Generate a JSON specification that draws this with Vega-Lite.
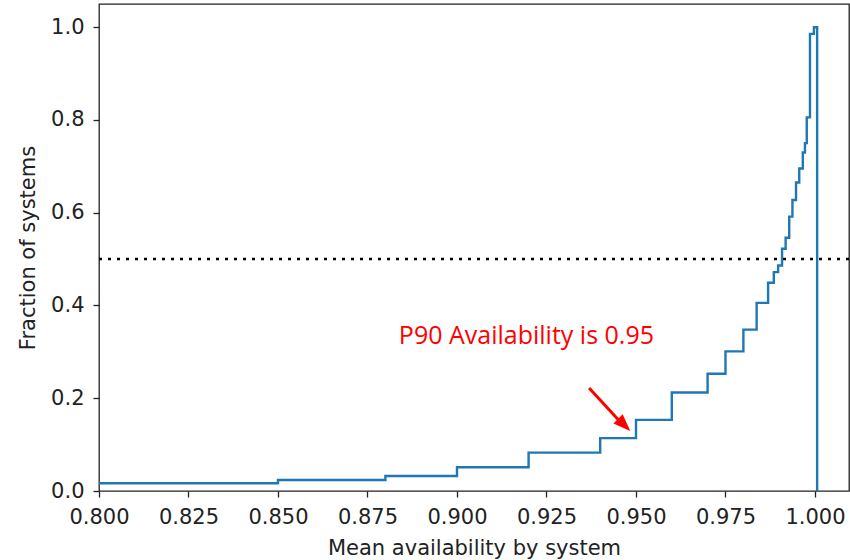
{
  "$schema": "https://vega.github.io/schema/vega-lite/v6.json",
  "width": 750,
  "height": 487,
  "autosize": {"type": "none"},
  "padding": {"left": 99, "top": 4, "right": 1, "bottom": 69},
  "background": "white",
  "config": {
    "view": {"stroke": "#222", "strokeWidth": 1.3},
    "axis": {
      "domain": false,
      "grid": false,
      "labelFont": "DejaVu Sans",
      "labelFontSize": 21,
      "labelColor": "#222",
      "labelOverlap": false,
      "labelFlush": false,
      "titleFont": "DejaVu Sans",
      "titleFontSize": 21,
      "titleFontWeight": "normal",
      "titleColor": "#222",
      "tickColor": "#222",
      "tickSize": 6,
      "tickWidth": 1.3
    }
  },
  "layer": [
    {
      "data": {
        "values": [
          {"x": 0.8, "y": 0.0166},
          {"x": 0.85, "y": 0.0238},
          {"x": 0.88, "y": 0.0324},
          {"x": 0.9, "y": 0.0512},
          {"x": 0.92, "y": 0.0828},
          {"x": 0.94, "y": 0.1139},
          {"x": 0.95, "y": 0.1534},
          {"x": 0.96, "y": 0.2124},
          {"x": 0.97, "y": 0.2529},
          {"x": 0.975, "y": 0.3011},
          {"x": 0.98, "y": 0.348},
          {"x": 0.9837, "y": 0.4057},
          {"x": 0.9869, "y": 0.4489},
          {"x": 0.9885, "y": 0.472},
          {"x": 0.9897, "y": 0.4863},
          {"x": 0.9908, "y": 0.5224},
          {"x": 0.9918, "y": 0.5461},
          {"x": 0.9928, "y": 0.5915},
          {"x": 0.9937, "y": 0.6274},
          {"x": 0.9947, "y": 0.665},
          {"x": 0.9956, "y": 0.6953},
          {"x": 0.9966, "y": 0.7298},
          {"x": 0.9972, "y": 0.75},
          {"x": 0.9977, "y": 0.8055},
          {"x": 0.9986, "y": 0.9855},
          {"x": 0.9997, "y": 1.0},
          {"x": 1.0006, "y": 0}
        ]
      },
      "mark": {"type": "line", "interpolate": "step-after", "color": "#1f77b4", "strokeWidth": 2.4, "clip": true},
      "encoding": {
        "x": {
          "field": "x", "type": "quantitative",
          "scale": {"domain": [0.8, 1.0095], "nice": false, "zero": false},
          "axis": {
            "title": "Mean availability by system",
            "values": [0.8, 0.825, 0.85, 0.875, 0.9, 0.925, 0.95, 0.975, 1.0],
            "format": ".3f",
            "labelPadding": 9,
            "titlePadding": 10
          }
        },
        "y": {
          "field": "y", "type": "quantitative",
          "scale": {"domain": [0, 1.05], "nice": false, "zero": false},
          "axis": {
            "title": "Fraction of systems",
            "values": [0, 0.2, 0.4, 0.6, 0.8, 1.0],
            "format": ".1f",
            "labelPadding": 9,
            "titlePadding": 12
          }
        }
      }
    },
    {
      "data": {"values": [{"y": 0.5}]},
      "mark": {"type": "rule", "color": "black", "strokeWidth": 2.5, "strokeDash": [3, 6]},
      "encoding": {
        "y": {"field": "y", "type": "quantitative", "title": "Fraction of systems"}
      }
    },
    {
      "data": {"values": [{"x": 0.9369, "y": 0.222, "x2": 0.9459, "y2": 0.1465}]},
      "mark": {"type": "rule", "color": "#ff0000", "strokeWidth": 3},
      "encoding": {
        "x": {"field": "x", "type": "quantitative", "title": "Mean availability by system"},
        "y": {"field": "y", "type": "quantitative", "title": "Fraction of systems"},
        "x2": {"field": "x2"},
        "y2": {"field": "y2"}
      }
    },
    {
      "data": {"values": [{"x": 0.9467, "y": 0.1425}]},
      "mark": {"type": "point", "shape": "M0,-1L0.75,1L-0.75,1Z", "filled": true, "color": "#ff0000", "opacity": 1, "size": 300, "angle": 135},
      "encoding": {
        "x": {"field": "x", "type": "quantitative", "title": "Mean availability by system"},
        "y": {"field": "y", "type": "quantitative", "title": "Fraction of systems"}
      }
    },
    {
      "data": {"values": [{"x": 0.9194, "y": 0.3177, "label": "P90 Availability is 0.95"}]},
      "mark": {"type": "text", "color": "#ff0000", "font": "Open Sans", "fontSize": 25, "align": "center", "baseline": "alphabetic"},
      "encoding": {
        "x": {"field": "x", "type": "quantitative", "title": "Mean availability by system"},
        "y": {"field": "y", "type": "quantitative", "title": "Fraction of systems"},
        "text": {"field": "label"}
      }
    }
  ]
}
